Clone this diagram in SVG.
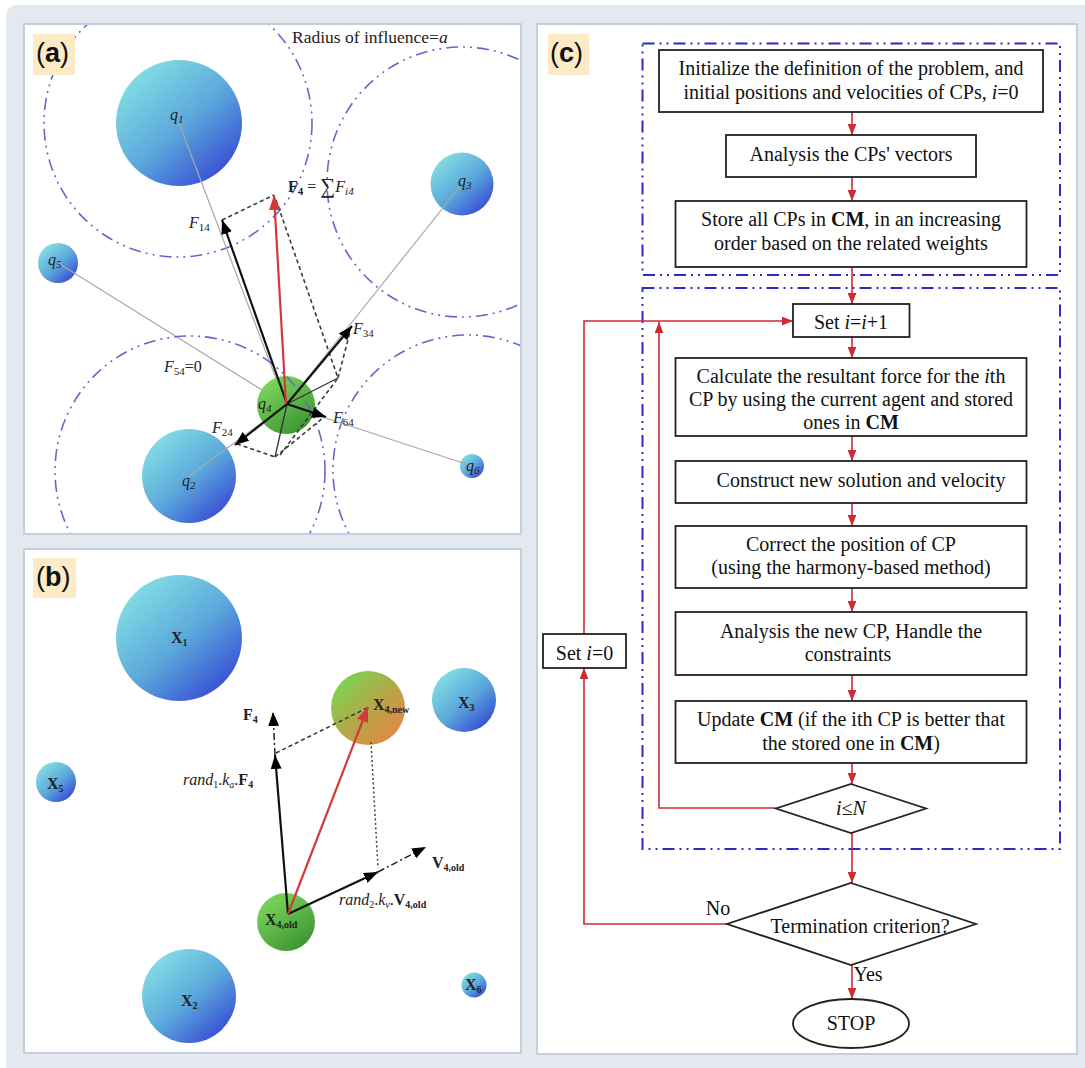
<svg xmlns="http://www.w3.org/2000/svg" width="1085" height="1068" viewBox="0 0 1085 1068">
<defs>
<style>
.panel{fill:#fff;stroke:#c4cedf;stroke-width:2}
.lab{fill:#fdebc6}
.labt{font-family:"Liberation Sans",Arial,sans-serif;font-size:27px;fill:#111}
.sf{font-family:"Liberation Serif","Times New Roman",serif;fill:#222}
.ft{font-family:"Liberation Serif","Times New Roman",serif;font-size:20px;fill:#111;text-anchor:middle}
.box{fill:#fff;stroke:#222;stroke-width:1.8}
.flow{fill:none;stroke:#d02a35;stroke-width:1.6}
.ddot{fill:none;stroke:#2b2bcc;stroke-width:2;stroke-dasharray:12 5 2 5 2 5}
.infl{fill:none;stroke:#6767c8;stroke-width:1.6;stroke-dasharray:12 5 2 5 2 5}
.gray{stroke:#a9a9a9;stroke-width:1.2;fill:none}
.vec{stroke:#111;stroke-width:2.2;fill:none}
.thin{stroke:#333;stroke-width:1.3;fill:none}
.dash{stroke:#3a3a3a;stroke-width:1.6;fill:none;stroke-dasharray:4 3}
.dot{stroke:#444;stroke-width:1.5;fill:none;stroke-dasharray:2 2.5}
.dd{stroke:#222;stroke-width:1.5;fill:none;stroke-dasharray:7 3 2 3}
.red{stroke:#d23a3a;stroke-width:2.2;fill:none}
</style>
<linearGradient id="gBlue" x1="0.15" y1="0.1" x2="0.9" y2="0.95">
<stop offset="0" stop-color="#84dde3"/>
<stop offset="0.5" stop-color="#5ba8dc"/>
<stop offset="1" stop-color="#3343d2"/>
</linearGradient>
<linearGradient id="gGreen" x1="0.2" y1="0.1" x2="0.8" y2="0.95">
<stop offset="0" stop-color="#7ad45a"/>
<stop offset="1" stop-color="#3c9432"/>
</linearGradient>
<linearGradient id="gNew" x1="0.15" y1="0.15" x2="0.9" y2="0.9">
<stop offset="0" stop-color="#7fd152"/>
<stop offset="0.5" stop-color="#b5a648"/>
<stop offset="1" stop-color="#e58844"/>
</linearGradient>
<clipPath id="clipA"><rect x="25" y="25" width="495" height="508"/></clipPath>
<marker id="ahB" viewBox="0 0 14 11" refX="14" refY="5.5" markerWidth="14" markerHeight="11" markerUnits="userSpaceOnUse" orient="auto"><path d="M0,0 L14,5.5 L0,11 z" fill="#000"/></marker>
<marker id="ahR" viewBox="0 0 14 11" refX="14" refY="5.5" markerWidth="15" markerHeight="12" markerUnits="userSpaceOnUse" orient="auto"><path d="M0,0 L14,5.5 L0,11 z" fill="#d23a3a"/></marker>
<marker id="ahF" viewBox="0 0 10 8" refX="10" refY="4" markerWidth="11" markerHeight="9" markerUnits="userSpaceOnUse" orient="auto"><path d="M0,0 L10,4 L0,8 z" fill="#d02a35"/></marker>
</defs>

<rect x="0" y="0" width="1085" height="1068" fill="#fff"/>
<rect x="6" y="5" width="1090" height="1075" rx="10" fill="#e4e9ef"/>

<!-- Panel A -->
<g id="panel-a">
<rect class="panel" x="24" y="24" width="497" height="510"/>
<g clip-path="url(#clipA)">
<circle class="infl" cx="178" cy="123" r="134"/>
<circle class="infl" cx="462" cy="182" r="135"/>
<circle class="infl" cx="468" cy="470" r="135"/>
</g>
<g id="q1"><circle cx="179" cy="123" r="63" fill="url(#gBlue)"/></g>
<g id="q3"><circle cx="462" cy="184" r="31.5" fill="url(#gBlue)"/></g>
<g id="q5"><circle cx="58" cy="263" r="20" fill="url(#gBlue)"/></g>
<g id="q2"><circle cx="189" cy="476" r="47" fill="url(#gBlue)"/></g>
<g id="q6"><circle cx="472" cy="466" r="12" fill="url(#gBlue)"/></g>
<g class="gray">
<line x1="179" y1="123" x2="286" y2="405"/>
<line x1="462" y1="184" x2="286" y2="405"/>
<line x1="58" y1="263" x2="286" y2="405"/>
<line x1="472" y1="466" x2="286" y2="405"/>
<line x1="189" y1="476" x2="286" y2="405"/>
</g>
<g id="q4"><circle cx="286" cy="405" r="29" fill="url(#gGreen)"/></g>
<g clip-path="url(#clipA)"><circle class="infl" cx="190" cy="471" r="135"/></g>
<g id="forces-a">
<line class="thin" x1="287" y1="404" x2="338" y2="378"/>
<line class="thin" x1="287" y1="404" x2="275" y2="457"/>
<line class="dash" x1="222" y1="220" x2="274" y2="195"/>
<line class="dash" x1="276" y1="200" x2="338" y2="378"/>
<line class="dash" x1="338" y1="378" x2="350" y2="332"/>
<line class="dash" x1="237" y1="444" x2="275" y2="457"/>
<line class="dash" x1="275" y1="457" x2="323" y2="418"/>
<line class="dash" x1="280" y1="455" x2="338" y2="378"/>
<line class="vec" x1="287" y1="404" x2="222" y2="220" marker-end="url(#ahB)"/>
<line class="vec" x1="287" y1="404" x2="352" y2="326" marker-end="url(#ahB)"/>
<line class="vec" x1="287" y1="404" x2="326" y2="417" marker-end="url(#ahB)"/>
<line class="vec" x1="287" y1="404" x2="235" y2="445" marker-end="url(#ahB)"/>
<line class="red" x1="286" y1="404" x2="274" y2="195" marker-end="url(#ahR)"/>
</g>
<g id="labels-a" class="sf" font-size="16">
<text x="170" y="120" font-style="italic">q<tspan dy="3" font-size="11">1</tspan></text>
<text x="458" y="186" font-style="italic">q<tspan dy="3" font-size="11">3</tspan></text>
<text x="48" y="265" font-style="italic">q<tspan dy="3" font-size="11">5</tspan></text>
<text x="258" y="409" font-style="italic">q<tspan dy="3" font-size="11">4</tspan></text>
<text x="182" y="486" font-style="italic">q<tspan dy="3" font-size="11">2</tspan></text>
<text x="466" y="471" font-style="italic">q<tspan dy="3" font-size="11">6</tspan></text>
<text x="189" y="228"><tspan font-style="italic">F</tspan><tspan dy="3" font-size="11">14</tspan></text>
<text x="353" y="334"><tspan font-style="italic">F</tspan><tspan dy="3" font-size="11">34</tspan></text>
<text x="333" y="423"><tspan font-style="italic">F</tspan><tspan dy="3" font-size="11">64</tspan></text>
<text x="212" y="433"><tspan font-style="italic">F</tspan><tspan dy="3" font-size="11">24</tspan></text>
<text x="164" y="372"><tspan font-style="italic">F</tspan><tspan dy="3" font-size="11">54</tspan><tspan dy="-3">=0</tspan></text>
<text x="288" y="192"><tspan font-weight="bold">F</tspan><tspan dy="3" font-size="11" font-weight="bold">4</tspan><tspan dy="-3"> = </tspan><tspan font-size="21" dy="1">∑</tspan><tspan font-style="italic" dy="-1">F</tspan><tspan dy="3" font-size="11" font-style="italic">i4</tspan></text>
<text x="292" y="42.5" font-size="17.5">Radius of influence=<tspan font-style="italic">a</tspan></text>
</g>
<g id="label-a"><rect class="lab" x="33" y="34" width="42" height="41"/><text class="labt" x="36" y="62">(<tspan font-weight="bold">a</tspan>)</text></g>
</g>

<!-- Panel B -->
<g id="panel-b">
<rect class="panel" x="24" y="549" width="497" height="504"/>
<g id="X1"><circle cx="179" cy="638" r="63" fill="url(#gBlue)"/></g>
<g id="X3"><circle cx="464" cy="700" r="32" fill="url(#gBlue)"/></g>
<g id="X5"><circle cx="56" cy="782" r="20" fill="url(#gBlue)"/></g>
<g id="X2"><circle cx="189" cy="996" r="47" fill="url(#gBlue)"/></g>
<g id="X6"><circle cx="474" cy="985" r="12.5" fill="url(#gBlue)"/></g>
<g id="X4new"><circle cx="368" cy="708" r="37" fill="url(#gNew)"/></g>
<g id="X4old"><circle cx="286" cy="922" r="29" fill="url(#gGreen)"/></g>
<g id="vectors-b">
<line class="dash" x1="276" y1="753" x2="367" y2="708"/>
<line class="dot" x1="371" y1="742" x2="378" y2="868"/>
<line class="vec" x1="288" y1="914" x2="275" y2="755" marker-end="url(#ahB)"/>
<line class="dd" x1="275" y1="755" x2="273" y2="712" marker-end="url(#ahB)"/>
<line class="vec" x1="288" y1="914" x2="378" y2="872" marker-end="url(#ahB)"/>
<line class="dd" x1="378" y1="872" x2="426" y2="847" marker-end="url(#ahB)"/>
<line class="red" x1="288" y1="914" x2="368" y2="707" marker-end="url(#ahR)"/>
</g>
<g id="labels-b" class="sf" font-size="16">
<text x="171" y="643" font-weight="bold">X<tspan dy="3" font-size="10">1</tspan></text>
<text x="458" y="708" font-weight="bold">X<tspan dy="3" font-size="10">3</tspan></text>
<text x="47" y="789" font-weight="bold">X<tspan dy="3" font-size="10">5</tspan></text>
<text x="181" y="1006" font-weight="bold">X<tspan dy="3" font-size="10">2</tspan></text>
<text x="465" y="990" font-weight="bold">X<tspan dy="3" font-size="10">6</tspan></text>
<text x="373" y="710" font-weight="bold">X<tspan dy="3" font-size="10">4,new</tspan></text>
<text x="265" y="925" font-weight="bold">X<tspan dy="3" font-size="10">4,old</tspan></text>
<text x="243" y="720" font-weight="bold">F<tspan dy="3" font-size="10">4</tspan></text>
<text x="432" y="868" font-weight="bold">V<tspan dy="3" font-size="10">4,old</tspan></text>
<text x="183" y="785"><tspan font-style="italic">rand</tspan><tspan dy="3" font-size="10">1</tspan><tspan dy="-3">.</tspan><tspan font-style="italic">k</tspan><tspan dy="3" font-size="10" font-style="italic">a</tspan><tspan dy="-3">.</tspan><tspan font-weight="bold">F</tspan><tspan dy="3" font-size="10" font-weight="bold">4</tspan></text>
<text x="339" y="905"><tspan font-style="italic">rand</tspan><tspan dy="3" font-size="10">2</tspan><tspan dy="-3">.</tspan><tspan font-style="italic">k</tspan><tspan dy="3" font-size="10" font-style="italic">v</tspan><tspan dy="-3">.</tspan><tspan font-weight="bold">V</tspan><tspan dy="3" font-size="10" font-weight="bold">4,old</tspan></text>
</g>
<g id="label-b"><rect class="lab" x="33" y="558" width="43" height="40"/><text class="labt" x="36" y="586">(<tspan font-weight="bold">b</tspan>)</text></g>
</g>

<!-- Panel C -->
<g id="panel-c">
<rect class="panel" x="537" y="24" width="540" height="1030"/>
<g id="label-c"><rect class="lab" x="548" y="34" width="41" height="41"/><text class="labt" x="550" y="62">(<tspan font-weight="bold">c</tspan>)</text></g>
<rect class="ddot" x="642.5" y="43.5" width="417.5" height="231.5"/>
<rect class="ddot" x="642.5" y="288" width="417.5" height="561"/>

<g id="connectors">
<line class="flow" x1="852" y1="112" x2="852" y2="135" marker-end="url(#ahF)"/>
<line class="flow" x1="852" y1="177" x2="852" y2="201" marker-end="url(#ahF)"/>
<line class="flow" x1="852" y1="267" x2="852" y2="304" marker-end="url(#ahF)"/>
<line class="flow" x1="852" y1="337" x2="852" y2="358" marker-end="url(#ahF)"/>
<line class="flow" x1="852" y1="436" x2="852" y2="461" marker-end="url(#ahF)"/>
<line class="flow" x1="852" y1="503" x2="852" y2="526" marker-end="url(#ahF)"/>
<line class="flow" x1="852" y1="588" x2="852" y2="612" marker-end="url(#ahF)"/>
<line class="flow" x1="852" y1="675" x2="852" y2="701" marker-end="url(#ahF)"/>
<line class="flow" x1="852" y1="763" x2="852" y2="784" marker-end="url(#ahF)"/>
<line class="flow" x1="852" y1="833" x2="852" y2="883" marker-end="url(#ahF)"/>
<line class="flow" x1="852" y1="965" x2="852" y2="999" marker-end="url(#ahF)"/>
<polyline class="flow" points="776,808 659,808 659,322" marker-end="url(#ahF)"/>
<polyline class="flow" points="727,924 584,924 584,668" marker-end="url(#ahF)"/>
<polyline class="flow" points="584,634 584,321 793,321" marker-end="url(#ahF)"/>
</g>

<g id="n-init"><rect class="box" x="659" y="50" width="384" height="62"/>
<text class="ft" x="851" y="75">Initialize the definition of the problem, and</text>
<text class="ft" x="851" y="98.5">initial positions and velocities of CPs, <tspan font-style="italic">i</tspan>=0</text></g>
<g id="n-analysis"><rect class="box" x="726" y="135" width="250" height="42"/>
<text class="ft" x="851" y="160.5">Analysis the CPs' vectors</text></g>
<g id="n-store"><rect class="box" x="675.5" y="201" width="351" height="66"/>
<text class="ft" x="851" y="226">Store all CPs in <tspan font-weight="bold">CM</tspan>, in an increasing</text>
<text class="ft" x="851" y="250">order based on the related weights</text></g>
<g id="n-set1"><rect class="box" x="793" y="304" width="116.5" height="33"/>
<text class="ft" x="851" y="329">Set <tspan font-style="italic">i</tspan>=<tspan font-style="italic">i</tspan>+1</text></g>
<g id="n-calc"><rect class="box" x="675.5" y="358" width="351" height="78"/>
<text class="ft" x="851" y="383">Calculate the resultant force for the <tspan font-style="italic">i</tspan>th</text>
<text class="ft" x="851" y="405.5">CP by using the current agent and stored</text>
<text class="ft" x="851" y="429">ones in <tspan font-weight="bold">CM</tspan></text></g>
<g id="n-construct"><rect class="box" x="675.5" y="461" width="351" height="42"/>
<text class="ft" x="861" y="487">Construct new solution and velocity</text></g>
<g id="n-correct"><rect class="box" x="675.5" y="526" width="351" height="62"/>
<text class="ft" x="851" y="551">Correct the position of CP</text>
<text class="ft" x="851" y="573.5">(using the harmony-based method)</text></g>
<g id="n-newcp"><rect class="box" x="675.5" y="612" width="351" height="63"/>
<text class="ft" x="851" y="638">Analysis the new CP, Handle the</text>
<text class="ft" x="848" y="661">constraints</text></g>
<g id="n-update"><rect class="box" x="675.5" y="701" width="351" height="62"/>
<text class="ft" x="851" y="726">Update <tspan font-weight="bold">CM</tspan> (if the ith CP is better that</text>
<text class="ft" x="851" y="750">the stored one in <tspan font-weight="bold">CM</tspan>)</text></g>
<g id="n-ilen"><polygon class="box" points="851,784 926,808.5 851,833 776,808.5"/>
<text class="ft" x="851" y="815" font-style="italic">i≤N</text></g>
<g id="n-term"><polygon class="box" points="851,883 976,924 851,965 727,924"/>
<text class="ft" x="860" y="933">Termination criterion?</text></g>
<g id="n-stop"><ellipse class="box" cx="851" cy="1023.5" rx="58" ry="24.5"/>
<text class="ft" x="851" y="1030">STOP</text></g>
<g id="n-set0"><rect class="box" x="543" y="634" width="83" height="34"/>
<text class="ft" x="584.5" y="660">Set <tspan font-style="italic">i</tspan>=0</text></g>
<text class="ft" x="718" y="915">No</text>
<text class="ft" x="868" y="981">Yes</text>
</g>
</svg>
